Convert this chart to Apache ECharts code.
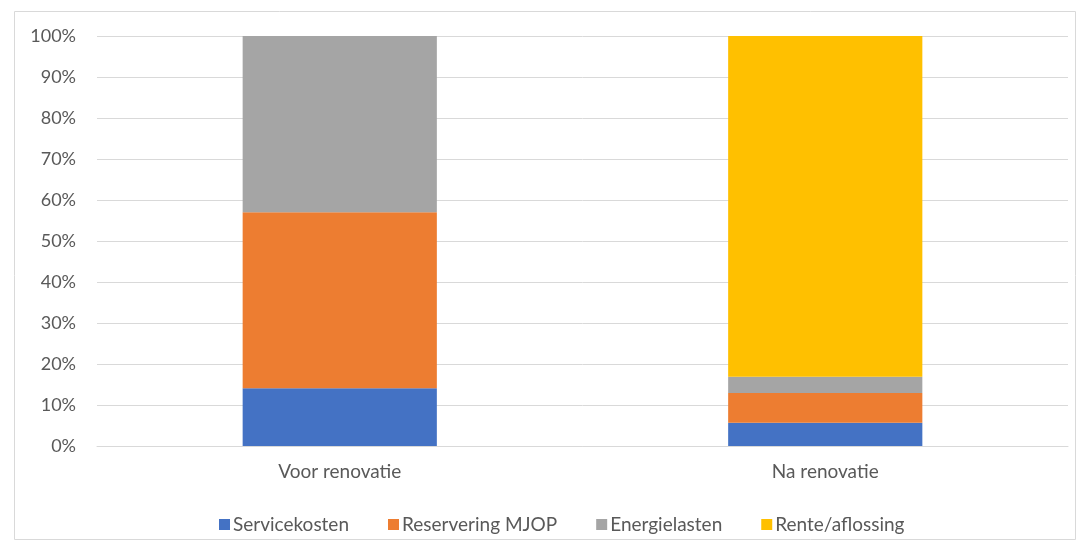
<!DOCTYPE html>
<html><head><meta charset="utf-8">
<script src="https://cdn.jsdelivr.net/npm/echarts@6/dist/echarts.min.js"></script>
<style>html,body{margin:0;padding:0;background:#fff}#c{width:1084px;height:550px}</style>
</head><body><div id="c"></div>
<script>
const categories = ['Voor renovatie', 'Na renovatie'];
const servicekosten = [14.1, 5.7];
const reserveringMJOP = [42.9, 7.2];
const energielasten = [43.0, 4.0];
const renteAflossing = [0, 83.1];
const seriesNames = ['Servicekosten', 'Reservering MJOP', 'Energielasten', 'Rente/aflossing'];
const colors = ['#4472C4', '#ED7D31', '#A5A5A5', '#FFC000'];

const chart = echarts.init(document.getElementById('c'));
const font = 'Lato, "Open Sans", sans-serif';
const values = [servicekosten, reserveringMJOP, energielasten, renteAflossing];
chart.setOption({
  animation: false,
  color: colors,
  graphic: [{type: 'rect', shape: {x: 14.5, y: 11.5, width: 1061, height: 528}, style: {fill: 'none', stroke: '#D9D9D9', lineWidth: 1}, z: -1}],
  grid: {left: 97, right: 16, top: 36, bottom: 104},
  legend: {
    top: 510, left: 214, itemWidth: 11, itemHeight: 11, itemGap: 39,
    icon: 'rect',
    textStyle: {fontFamily: font, fontSize: 19, color: '#595959', padding: [0, 0, 0, -2]},
    data: seriesNames
  },
  xAxis: {
    type: 'category', data: categories,
    axisLine: {lineStyle: {color: '#D9D9D9'}},
    axisTick: {show: false},
    axisLabel: {fontFamily: font, fontSize: 19, color: '#595959', margin: 16}
  },
  yAxis: {
    type: 'value', min: 0, max: 100, interval: 10,
    axisLine: {show: false}, axisTick: {show: false},
    splitLine: {lineStyle: {color: '#D9D9D9'}},
    axisLabel: {fontFamily: font, fontSize: 18, color: '#595959', margin: 21, formatter: '{value}%'}
  },
  series: seriesNames.map((n, i) => ({
    name: n, type: 'bar', stack: 'total', data: values[i], barWidth: '40%'
  }))
});
</script></body></html>
